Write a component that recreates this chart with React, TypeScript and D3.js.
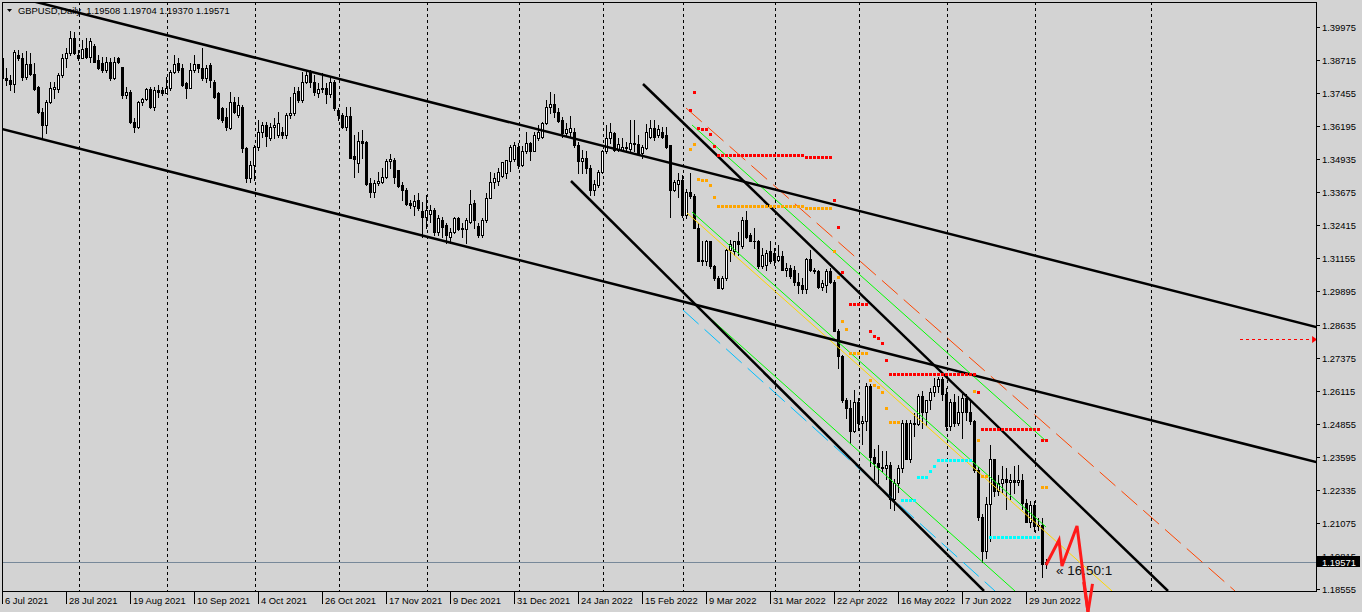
import { useEffect, useRef } from "react";
import * as d3 from "d3";

type Bar = [number, number, number, number]; // open, high, low, close
type Pt = [number, number]; // bar index, price
type Run = [number, number, number]; // first bar, last bar, price

const W = 1362;
const H = 612;
const L = 2;
const T = 2;
const R = 1316;
const B = 591;

// GBPUSD Daily, one bar per weekday from 6 Jul 2021 to 6 Jul 2022
const candles: Bar[] = [
  [1.3878, 1.3897, 1.377, 1.3802], [1.3802, 1.384, 1.3775, 1.3795], [1.3795, 1.3815, 1.3757, 1.378],
  [1.378, 1.391, 1.3751, 1.3903], [1.389, 1.3908, 1.3872, 1.3878], [1.3878, 1.39, 1.3797, 1.3806],
  [1.3806, 1.3905, 1.38, 1.3855], [1.3855, 1.3897, 1.3815, 1.382], [1.382, 1.3859, 1.3757, 1.3761],
  [1.377, 1.3773, 1.3668, 1.3672], [1.3672, 1.3688, 1.3573, 1.3624], [1.3624, 1.3719, 1.3592, 1.371],
  [1.371, 1.3789, 1.3707, 1.3764], [1.376, 1.3787, 1.3725, 1.3768], [1.376, 1.3821, 1.3751, 1.3815],
  [1.3815, 1.3893, 1.3808, 1.3878], [1.388, 1.3916, 1.3846, 1.3897], [1.3897, 1.3982, 1.3891, 1.3954],
  [1.3954, 1.398, 1.3893, 1.3897], [1.3891, 1.391, 1.3872, 1.3878], [1.3878, 1.3948, 1.3878, 1.3914],
  [1.3916, 1.3954, 1.3878, 1.3882], [1.3882, 1.3954, 1.3865, 1.3944], [1.3926, 1.3931, 1.3863, 1.3865],
  [1.3872, 1.3891, 1.3837, 1.3842], [1.3859, 1.3884, 1.3827, 1.3834], [1.3834, 1.3884, 1.3827, 1.3863],
  [1.3865, 1.3878, 1.3795, 1.3802], [1.3802, 1.3884, 1.38, 1.3865], [1.3878, 1.3884, 1.3859, 1.3863],
  [1.3846, 1.3846, 1.3728, 1.3738], [1.374, 1.377, 1.3726, 1.3751], [1.3751, 1.3757, 1.363, 1.3634],
  [1.3636, 1.365, 1.3599, 1.3618], [1.3618, 1.3716, 1.3611, 1.3713], [1.3713, 1.3728, 1.37, 1.3723],
  [1.3723, 1.3766, 1.3719, 1.3761], [1.3761, 1.377, 1.3688, 1.3694], [1.3694, 1.377, 1.3681, 1.3757],
  [1.3757, 1.3776, 1.3732, 1.3751], [1.3757, 1.377, 1.3738, 1.3745], [1.3745, 1.3808, 1.3745, 1.3766],
  [1.3764, 1.3834, 1.3757, 1.3827], [1.3827, 1.3891, 1.3821, 1.3855], [1.3859, 1.3878, 1.3827, 1.3834],
  [1.384, 1.3855, 1.3774, 1.3776], [1.3783, 1.3789, 1.3726, 1.3766], [1.3766, 1.3859, 1.3764, 1.3834],
  [1.3834, 1.3891, 1.3827, 1.3855], [1.3855, 1.3855, 1.3827, 1.384], [1.384, 1.3916, 1.3795, 1.3802],
  [1.3802, 1.3853, 1.3789, 1.384], [1.3853, 1.3859, 1.377, 1.3795], [1.3789, 1.3795, 1.3728, 1.3732],
  [1.3745, 1.3751, 1.3647, 1.365], [1.3688, 1.3694, 1.3637, 1.3643], [1.3656, 1.3688, 1.3605, 1.3618],
  [1.3611, 1.3751, 1.3609, 1.3713], [1.3713, 1.3732, 1.3669, 1.3675], [1.3662, 1.3732, 1.3656, 1.37],
  [1.3694, 1.37, 1.352, 1.3535], [1.3535, 1.3541, 1.3408, 1.3421], [1.3421, 1.3485, 1.3408, 1.3472],
  [1.3472, 1.3548, 1.3414, 1.3541], [1.3541, 1.3643, 1.3529, 1.3599], [1.3599, 1.3637, 1.358, 1.3624],
  [1.3624, 1.3637, 1.3545, 1.3582], [1.3576, 1.3631, 1.3567, 1.3618], [1.3618, 1.365, 1.3573, 1.3624],
  [1.3586, 1.3675, 1.358, 1.3631], [1.3596, 1.3618, 1.3573, 1.3584], [1.3586, 1.3669, 1.3573, 1.3662],
  [1.3662, 1.3732, 1.365, 1.3669], [1.3669, 1.377, 1.3662, 1.3745], [1.3754, 1.377, 1.3713, 1.372],
  [1.372, 1.3827, 1.3713, 1.3789], [1.3789, 1.3834, 1.3783, 1.3815], [1.3827, 1.3834, 1.377, 1.3787],
  [1.3789, 1.3815, 1.3739, 1.3749], [1.3745, 1.3783, 1.3732, 1.3761], [1.3764, 1.3821, 1.3751, 1.3761],
  [1.3764, 1.3783, 1.3707, 1.3741], [1.3741, 1.3808, 1.3732, 1.3787], [1.3787, 1.3796, 1.3681, 1.3688],
  [1.3681, 1.3688, 1.3643, 1.3662], [1.3662, 1.3669, 1.3612, 1.3618], [1.3618, 1.3694, 1.3605, 1.366],
  [1.366, 1.3694, 1.3497, 1.35], [1.3504, 1.3586, 1.3427, 1.3495], [1.3478, 1.3599, 1.3446, 1.3563],
  [1.3563, 1.3605, 1.3497, 1.3555], [1.3558, 1.3563, 1.3396, 1.3398], [1.3402, 1.3421, 1.3351, 1.3368],
  [1.3368, 1.3415, 1.3351, 1.3402], [1.3402, 1.3446, 1.3394, 1.3411], [1.3408, 1.3459, 1.3402, 1.3424],
  [1.3424, 1.3495, 1.3421, 1.3487], [1.3487, 1.3513, 1.3459, 1.3495], [1.3491, 1.3497, 1.3402, 1.3424],
  [1.3453, 1.3453, 1.3389, 1.3393], [1.3396, 1.3408, 1.3338, 1.3377], [1.3377, 1.3383, 1.332, 1.3322],
  [1.3326, 1.3338, 1.3307, 1.332], [1.3317, 1.3358, 1.3281, 1.3335], [1.3338, 1.3364, 1.33, 1.3307],
  [1.3297, 1.3332, 1.3199, 1.3275], [1.3275, 1.3358, 1.3231, 1.33], [1.3285, 1.332, 1.3256, 1.33],
  [1.33, 1.3307, 1.3205, 1.3218], [1.3218, 1.3281, 1.3205, 1.3269], [1.3262, 1.3275, 1.3199, 1.3237],
  [1.3243, 1.325, 1.3173, 1.3205], [1.3199, 1.3231, 1.3173, 1.3218], [1.3215, 1.3275, 1.3211, 1.3271],
  [1.3271, 1.3275, 1.3224, 1.3228], [1.3228, 1.325, 1.3199, 1.3231], [1.3228, 1.3269, 1.3173, 1.3262],
  [1.3256, 1.3377, 1.325, 1.3322], [1.3326, 1.3338, 1.3231, 1.3262], [1.324, 1.325, 1.3199, 1.3205],
  [1.3205, 1.3269, 1.3199, 1.3262], [1.3262, 1.3364, 1.3256, 1.3347], [1.3347, 1.3444, 1.3345, 1.3406],
  [1.3406, 1.344, 1.3385, 1.3421], [1.3412, 1.3462, 1.3396, 1.3444], [1.3428, 1.3483, 1.3424, 1.3482],
  [1.344, 1.3491, 1.3421, 1.3491], [1.3485, 1.3548, 1.3447, 1.3542], [1.3495, 1.3558, 1.3487, 1.3548],
  [1.3542, 1.3554, 1.3459, 1.3472], [1.3472, 1.3545, 1.3469, 1.3523], [1.3523, 1.3596, 1.3516, 1.3554],
  [1.3555, 1.3561, 1.3491, 1.3526], [1.3526, 1.3599, 1.3523, 1.3586], [1.3574, 1.3625, 1.3567, 1.3599],
  [1.3577, 1.3637, 1.3574, 1.3631], [1.3631, 1.372, 1.3627, 1.3694], [1.3694, 1.3749, 1.3669, 1.3703],
  [1.3703, 1.3741, 1.3656, 1.3673], [1.3673, 1.3688, 1.3637, 1.364], [1.3644, 1.3656, 1.358, 1.3593],
  [1.3593, 1.3631, 1.3586, 1.3609], [1.3597, 1.366, 1.358, 1.3612], [1.3599, 1.3612, 1.3542, 1.3548],
  [1.3548, 1.3561, 1.344, 1.3485], [1.3485, 1.3529, 1.344, 1.35], [1.35, 1.3523, 1.344, 1.3459],
  [1.3459, 1.3472, 1.3358, 1.3377], [1.3377, 1.3415, 1.3358, 1.3398], [1.3396, 1.3453, 1.3389, 1.3444],
  [1.3444, 1.3529, 1.344, 1.3523], [1.3523, 1.3625, 1.3516, 1.3574], [1.3574, 1.3631, 1.3555, 1.3596],
  [1.3593, 1.3599, 1.3523, 1.3529], [1.3529, 1.3574, 1.3523, 1.3551], [1.353, 1.3574, 1.3523, 1.3542],
  [1.3535, 1.3561, 1.3523, 1.3542], [1.3532, 1.3643, 1.3523, 1.3555], [1.3554, 1.3643, 1.3523, 1.3553],
  [1.3551, 1.3586, 1.351, 1.3517], [1.3517, 1.3548, 1.3497, 1.354], [1.3536, 1.3627, 1.3533, 1.3599],
  [1.358, 1.3644, 1.3576, 1.3614], [1.3614, 1.3644, 1.3567, 1.358], [1.3586, 1.3624, 1.358, 1.3609],
  [1.3599, 1.3618, 1.3574, 1.358], [1.3586, 1.3618, 1.3535, 1.3542], [1.3546, 1.3548, 1.3275, 1.3377],
  [1.3377, 1.3415, 1.3371, 1.3408], [1.34, 1.344, 1.335, 1.3415], [1.3415, 1.3434, 1.3275, 1.3282],
  [1.3282, 1.338, 1.327, 1.337], [1.337, 1.344, 1.3345, 1.3355], [1.3355, 1.336, 1.3231, 1.3231],
  [1.3231, 1.325, 1.3104, 1.3104], [1.3104, 1.318, 1.3091, 1.311], [1.3104, 1.3186, 1.3091, 1.318],
  [1.318, 1.3183, 1.3079, 1.3085], [1.3085, 1.3091, 1.3034, 1.3041], [1.3041, 1.305, 1.3002, 1.3002],
  [1.3002, 1.3047, 1.2999, 1.3041], [1.3041, 1.315, 1.3034, 1.3148], [1.3148, 1.3186, 1.3104, 1.3171],
  [1.3142, 1.318, 1.3129, 1.318], [1.318, 1.3218, 1.3129, 1.317], [1.3161, 1.3275, 1.3155, 1.3262],
  [1.3262, 1.3297, 1.3193, 1.3199], [1.3203, 1.3212, 1.318, 1.318], [1.318, 1.3231, 1.3155, 1.318],
  [1.318, 1.3186, 1.3079, 1.3085], [1.3085, 1.3155, 1.3079, 1.3129], [1.3091, 1.3148, 1.3072, 1.3135],
  [1.3142, 1.318, 1.3098, 1.3104], [1.3136, 1.3155, 1.3091, 1.3108], [1.311, 1.3167, 1.3104, 1.3123],
  [1.3123, 1.3142, 1.3072, 1.3072], [1.3072, 1.3098, 1.305, 1.3079], [1.3079, 1.3091, 1.304, 1.3047],
  [1.3072, 1.3085, 1.3015, 1.3027], [1.3027, 1.3059, 1.2983, 1.3015], [1.3015, 1.304, 1.2983, 1.2999],
  [1.2999, 1.3116, 1.2983, 1.3113], [1.3113, 1.3148, 1.3066, 1.3072], [1.3072, 1.308, 1.3059, 1.3066],
  [1.3066, 1.3072, 1.3002, 1.3008], [1.3008, 1.3034, 1.2996, 1.3021], [1.3015, 1.3075, 1.2989, 1.3069],
  [1.3069, 1.3078, 1.3021, 1.3027], [1.3027, 1.3034, 1.2837, 1.284], [1.284, 1.2846, 1.2697, 1.2742],
  [1.2742, 1.2748, 1.257, 1.2575], [1.2576, 1.2583, 1.2506, 1.2545], [1.2545, 1.2576, 1.2411, 1.2456],
  [1.2456, 1.2615, 1.2452, 1.257], [1.257, 1.2585, 1.2462, 1.249], [1.249, 1.2515, 1.241, 1.2495],
  [1.2495, 1.264, 1.246, 1.263], [1.263, 1.2638, 1.2325, 1.236], [1.236, 1.239, 1.2275, 1.2335],
  [1.2335, 1.2405, 1.226, 1.232], [1.232, 1.238, 1.23, 1.2315], [1.2315, 1.238, 1.2275, 1.233],
  [1.233, 1.234, 1.2165, 1.22], [1.22, 1.2275, 1.2155, 1.226], [1.226, 1.233, 1.2225, 1.2315],
  [1.2315, 1.25, 1.23, 1.249], [1.249, 1.25, 1.235, 1.235], [1.235, 1.25, 1.234, 1.249],
  [1.249, 1.2525, 1.244, 1.2485], [1.2485, 1.26, 1.248, 1.259], [1.259, 1.261, 1.247, 1.253],
  [1.253, 1.257, 1.248, 1.2575], [1.2575, 1.262, 1.254, 1.2605], [1.2605, 1.266, 1.259, 1.263],
  [1.263, 1.2665, 1.2605, 1.2655], [1.2655, 1.2665, 1.2575, 1.26], [1.26, 1.262, 1.246, 1.2475],
  [1.2475, 1.258, 1.246, 1.257], [1.257, 1.26, 1.2475, 1.249], [1.249, 1.259, 1.248, 1.253],
  [1.253, 1.26, 1.243, 1.2585], [1.2585, 1.26, 1.25, 1.253], [1.253, 1.2575, 1.2485, 1.2495],
  [1.2495, 1.25, 1.23, 1.231], [1.231, 1.232, 1.212, 1.213], [1.213, 1.214, 1.196, 1.2],
  [1.2, 1.2205, 1.1975, 1.218], [1.218, 1.2406, 1.204, 1.235], [1.235, 1.235, 1.221, 1.223],
  [1.223, 1.229, 1.2215, 1.226], [1.226, 1.2325, 1.2225, 1.2275], [1.2275, 1.2315, 1.216, 1.2265],
  [1.2265, 1.2295, 1.22, 1.227], [1.227, 1.2325, 1.222, 1.2265], [1.2265, 1.233, 1.225, 1.227],
  [1.227, 1.2295, 1.216, 1.2185], [1.2185, 1.22, 1.211, 1.211], [1.211, 1.219, 1.209, 1.2175],
  [1.2175, 1.219, 1.2075, 1.2095], [1.2095, 1.2125, 1.208, 1.21], [1.21, 1.2125, 1.1903, 1.195],
  [1.19508, 1.19704, 1.1937, 1.19571],
];

const dateLabels = [
  "6 Jul 2021", "28 Jul 2021", "19 Aug 2021", "10 Sep 2021", "4 Oct 2021", "26 Oct 2021",
  "17 Nov 2021", "9 Dec 2021", "31 Dec 2021", "24 Jan 2022", "15 Feb 2022", "9 Mar 2022",
  "31 Mar 2022", "22 Apr 2022", "16 May 2022", "7 Jun 2022", "29 Jun 2022",
];
const LABEL_EVERY = 16;

const priceTicks = [
  1.39975, 1.38715, 1.37455, 1.36195, 1.34935, 1.33675, 1.32415, 1.31155, 1.29895,
  1.28635, 1.27375, 1.26115, 1.24855, 1.23595, 1.22335, 1.21075, 1.19815, 1.18555,
];

// first bar of each month (Aug 2021 .. Aug 2022)
const monthStartBars = [19, 41, 63, 84, 106, 129, 150, 170, 193, 214, 236, 258, 287];

// trend lines
const wideUpper: Pt[] = [[9.375, 1.4089], [328.375, 1.28541]];
const wideLower: Pt[] = [[-0.125, 1.36087], [328.375, 1.23395]];
const steepUpper: Pt[] = [[160.125, 1.37803], [291.375, 1.18479]];
const steepLower: Pt[] = [[142.125, 1.34105], [245.375, 1.18479]];
// regression channel
const chanTop: Pt[] = [[170.875, 1.36888], [308.125, 1.18479]];
const chanUpper: Pt[] = [[172.375, 1.3624], [260.875, 1.24196]];
const chanMid: Pt[] = [[172.375, 1.32924], [260.875, 1.20918]];
const chanMidRay: Pt[] = [[171.125, 1.32886], [277.375, 1.18479]];
const chanLower: Pt[] = [[172.375, 1.29494], [253.125, 1.18479]];
const chanBottom: Pt[] = [[170.125, 1.29189], [248.125, 1.18479]];

// level dots
const redLevels: Run[] = [
  [172, 172, 1.36812], [173, 173, 1.37498], [174, 174, 1.36126], [175, 176, 1.36087],
  [177, 177, 1.35897], [178, 178, 1.35439], [179, 200, 1.35096], [201, 207, 1.3502],
  [208, 208, 1.33381], [209, 209, 1.32352], [210, 210, 1.30637], [212, 216, 1.29417],
  [217, 217, 1.28388], [218, 218, 1.28198], [219, 219, 1.28122], [220, 220, 1.27931],
  [221, 221, 1.27283], [222, 243, 1.26749], [244, 244, 1.26063], [245, 259, 1.24653],
  [260, 261, 1.24234],
];
const orangeLevels: Run[] = [
  [172, 172, 1.35325], [173, 173, 1.35516], [174, 174, 1.34182], [175, 176, 1.34144],
  [177, 177, 1.33953], [178, 178, 1.33496], [179, 200, 1.33153], [201, 207, 1.33077],
  [208, 208, 1.31437], [209, 209, 1.30447], [210, 210, 1.28769], [211, 211, 1.28465],
  [212, 216, 1.2755], [217, 217, 1.26521], [218, 218, 1.2633], [219, 219, 1.26254],
  [220, 220, 1.26063], [221, 221, 1.25454], [222, 224, 1.2492], [243, 243, 1.26101],
  [244, 244, 1.24234], [245, 246, 1.22862], [260, 261, 1.22443],
];
const cyanLevels: Run[] = [
  [225, 228, 1.21947], [229, 231, 1.22824], [232, 232, 1.23052], [233, 233, 1.23243],
  [234, 242, 1.23472], [247, 259, 1.20537],
];

// projected path with arrow
const projection: Pt[] = [
  [260.875, 1.1947], [264.125, 1.20423], [264.875, 1.19432], [268.625, 1.20956], [271.375, 1.17678],
];
const projectionHead: Pt[] = [[270.3, 1.1882], [271.375, 1.17678], [272.5, 1.1875]];
const ratioText = "\u00ab 16.50:1";
const ratioAt: Pt = [263.375, 1.19089];
const alertPrice = 1.28083;
const alertBars = [309.4, 327.4];

const symbolName = "GBPUSD,Daily";

export default function App() {
  const svgRef = useRef<SVGSVGElement | null>(null);

  useEffect(() => {
    const svg = d3.select(svgRef.current);
    svg.selectAll("*").remove();

    const x = d3.scaleLinear().domain([0, 1]).range([2.5, 6.5]);
    const y = d3.scaleLinear().domain([1.18555, 1.39975]).range([589, 27]);
    const col = (i: number) => Math.floor(x(i));
    const row = (p: number) => Math.round(y(p));
    const font = "'Liberation Sans', Arial, sans-serif";

    svg.append("rect").attr("width", W).attr("height", H).attr("fill", "#d3d3d3");
    svg
      .append("defs")
      .append("clipPath")
      .attr("id", "plot")
      .append("rect")
      .attr("x", L)
      .attr("y", T)
      .attr("width", R - L)
      .attr("height", B - T);

    const last = candles[candles.length - 1];

    // title
    svg.append("path").attr("d", "M7,9L12,9L9.5,12Z").attr("fill", "#000");
    svg
      .append("text")
      .attr("x", 18)
      .attr("y", 14)
      .attr("font-family", font)
      .attr("font-size", 9.4)
      .attr("fill", "#000")
      .style("white-space", "pre")
      .text(`${symbolName}  ${last.map((v) => v.toFixed(5)).join(" ")}`);

    // month grid
    svg
      .append("g")
      .attr("shape-rendering", "crispEdges")
      .selectAll("line")
      .data(monthStartBars)
      .join("line")
      .attr("x1", (d) => col(d) + 1.5)
      .attr("x2", (d) => col(d) + 1.5)
      .attr("y1", T)
      .attr("y2", B)
      .attr("stroke", "#000")
      .attr("stroke-dasharray", "3,3");

    // bid line
    svg
      .append("line")
      .attr("x1", L)
      .attr("x2", R)
      .attr("y1", row(last[3]) + 0.5)
      .attr("y2", row(last[3]) + 0.5)
      .attr("stroke", "#778899")
      .attr("shape-rendering", "crispEdges");

    // candles
    const cg = svg
      .append("g")
      .attr("clip-path", "url(#plot)")
      .attr("shape-rendering", "crispEdges");
    cg.selectAll("rect.wick")
      .data(candles)
      .join("rect")
      .attr("class", "wick")
      .attr("x", (_, i) => col(i))
      .attr("y", (d) => row(d[1]))
      .attr("width", 1)
      .attr("height", (d) => row(d[2]) - row(d[1]) + 1)
      .attr("fill", "#000");
    cg.selectAll("rect.body")
      .data(candles)
      .join("rect")
      .attr("class", "body")
      .each(function (d, i) {
        const [o, , , c] = d;
        const top = row(Math.max(o, c));
        const bot = row(Math.min(o, c));
        const r = d3.select(this);
        if (c > o && bot - top >= 2) {
          r.attr("x", col(i) - 0.5)
            .attr("y", top + 0.5)
            .attr("width", 2)
            .attr("height", bot - top)
            .attr("fill", "#fff")
            .attr("stroke", "#000");
        } else {
          r.attr("x", col(i) - 1)
            .attr("y", top)
            .attr("width", 3)
            .attr("height", bot - top + 1)
            .attr("fill", "#000");
        }
      });

    const line = d3
      .line<Pt>()
      .x((d) => x(d[0]))
      .y((d) => y(d[1]));
    const extend = (pts: Pt[], from: number, to: number): Pt[] => {
      const [[b0, p0], [b1, p1]] = pts;
      const k = (p1 - p0) / (b1 - b0);
      return [
        [from, p0 + (from - b0) * k],
        [to, p0 + (to - b0) * k],
      ];
    };

    const lg = svg.append("g").attr("clip-path", "url(#plot)").attr("fill", "none");
    const drawLine = (pts: Pt[], color: string, width: number, dash?: string) => {
      const p = lg
        .append("path")
        .attr("d", line(pts))
        .attr("stroke", color)
        .attr("stroke-width", width);
      if (dash) p.attr("stroke-dasharray", dash);
    };

    drawLine(chanTop, "#ff4500", 1, "21,8");
    drawLine(chanBottom, "#00bfff", 1, "21,8");
    drawLine(chanMidRay, "#ffd700", 1);
    drawLine(chanUpper, "#00ff00", 1);
    drawLine(chanMid, "#00ff00", 1);
    drawLine(chanLower, "#00ff00", 1);
    drawLine(extend(wideUpper, -5, 335), "#000", 2.5);
    drawLine(extend(wideLower, -5, 335), "#000", 2.5);
    drawLine(steepUpper, "#000", 2.5);
    drawLine(steepLower, "#000", 2.5);

    // level dots
    const dots = (runs: Run[], color: string) => {
      const pts: Pt[] = [];
      runs.forEach(([a, b, p]) => {
        for (let i = a; i <= b; i++) pts.push([i, p]);
      });
      svg
        .append("g")
        .attr("shape-rendering", "crispEdges")
        .selectAll("rect")
        .data(pts)
        .join("rect")
        .attr("x", (d) => col(d[0]) - 1)
        .attr("y", (d) => row(d[1]) - 1)
        .attr("width", 3)
        .attr("height", 3)
        .attr("fill", color);
    };
    dots(orangeLevels, "#ffa500");
    dots(redLevels, "#ff0000");
    dots(cyanLevels, "#00ffff");

    svg
      .append("text")
      .attr("x", x(ratioAt[0]))
      .attr("y", y(ratioAt[1]))
      .attr("font-family", font)
      .attr("font-size", 13.5)
      .attr("fill", "#111")
      .text(ratioText);

    // alert marker
    const ay = row(alertPrice) + 0.5;
    svg
      .append("line")
      .attr("x1", x(alertBars[0]))
      .attr("x2", x(alertBars[1]))
      .attr("y1", ay)
      .attr("y2", ay)
      .attr("stroke", "#ff0000")
      .attr("stroke-dasharray", "3,3")
      .attr("shape-rendering", "crispEdges");
    svg
      .append("path")
      .attr("d", `M${x(alertBars[1])},${ay - 3.5}L${x(alertBars[1]) + 5},${ay}L${x(alertBars[1])},${ay + 3.5}Z`)
      .attr("fill", "#ff0000");

    // frame and axes
    const frame = svg.append("g").attr("shape-rendering", "crispEdges").attr("stroke", "#000");
    frame.append("line").attr("x1", L).attr("x2", R).attr("y1", T + 0.5).attr("y2", T + 0.5);
    frame.append("line").attr("x1", L + 0.5).attr("x2", L + 0.5).attr("y1", T).attr("y2", B);
    frame.append("line").attr("x1", R + 0.5).attr("x2", R + 0.5).attr("y1", T).attr("y2", B + 1);
    frame.append("line").attr("x1", L).attr("x2", R + 1).attr("y1", B + 0.5).attr("y2", B + 0.5);

    // price axis
    const pa = svg.append("g");
    pa.selectAll("line")
      .data(priceTicks)
      .join("line")
      .attr("x1", R + 1)
      .attr("x2", R + 4)
      .attr("y1", (d) => row(d) + 0.5)
      .attr("y2", (d) => row(d) + 0.5)
      .attr("stroke", "#000")
      .attr("shape-rendering", "crispEdges");
    pa.selectAll("text")
      .data(priceTicks)
      .join("text")
      .attr("x", R + 6)
      .attr("y", (d) => row(d) + 4)
      .attr("font-family", font)
      .attr("font-size", 9.4)
      .attr("fill", "#000")
      .text((d) => d.toFixed(5));

    // current price tag (covers the tick label beneath it, as in the terminal)
    const by = row(last[3]);
    svg
      .append("rect")
      .attr("x", R + 1)
      .attr("y", by - 6)
      .attr("width", 43)
      .attr("height", 11)
      .attr("fill", "#000");
    svg
      .append("text")
      .attr("x", R + 6)
      .attr("y", by + 3.5)
      .attr("font-family", font)
      .attr("font-size", 9.4)
      .attr("fill", "#fff")
      .text(last[3].toFixed(5));

    // time axis
    const ta = svg.append("g");
    ta.selectAll("line")
      .data(dateLabels)
      .join("line")
      .attr("x1", (_, i) => col(i * LABEL_EVERY) + 0.5)
      .attr("x2", (_, i) => col(i * LABEL_EVERY) + 0.5)
      .attr("y1", B + 1)
      .attr("y2", B + 13)
      .attr("stroke", "#000")
      .attr("shape-rendering", "crispEdges");
    ta.selectAll("text")
      .data(dateLabels)
      .join("text")
      .attr("x", (_, i) => col(i * LABEL_EVERY) + 3)
      .attr("y", B + 13)
      .attr("font-family", font)
      .attr("font-size", 9.4)
      .attr("fill", "#000")
      .text((d) => d);

    // projection zigzag, drawn last so its arrow runs over the time axis
    svg
      .append("path")
      .attr("d", line(projection))
      .attr("fill", "none")
      .attr("stroke", "#ff1a1a")
      .attr("stroke-width", 3)
      .attr("stroke-linejoin", "miter");
    svg
      .append("path")
      .attr("d", line(projectionHead))
      .attr("fill", "none")
      .attr("stroke", "#ff1a1a")
      .attr("stroke-width", 3);
  }, []);

  return (
    <div style={{ position: "absolute", left: 0, top: 0, width: W, height: H, overflow: "hidden" }}>
      <svg ref={svgRef} width={W} height={H} style={{ display: "block" }} />
    </div>
  );
}
